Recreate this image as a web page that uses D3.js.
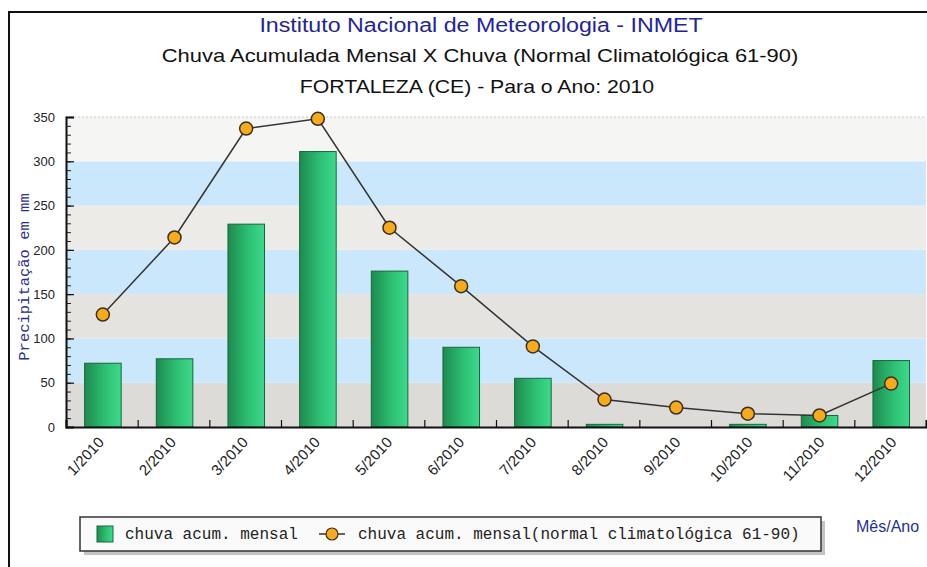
<!DOCTYPE html>
<html>
<head>
<meta charset="utf-8">
<script src="https://cdn.jsdelivr.net/npm/d3@7"></script>
<style>
  body { margin: 0; background: #fff; }
  svg { display: block; }
</style>
</head>
<body>
<div id="chart"></div>
<script>
// dados (mm)
var meses = ["1/2010", "2/2010", "3/2010", "4/2010", "5/2010", "6/2010",
             "7/2010", "8/2010", "9/2010", "10/2010", "11/2010", "12/2010"];
var chuvaMensal = [72, 77, 229, 311, 176, 90, 55, 3, 0, 3, 13, 75];
var chuvaNormal = [127, 214, 337, 348, 225, 159, 91, 31, 22, 15, 13, 49];
var yTicks = [0, 50, 100, 150, 200, 250, 300, 350];

var W = 927, H = 567;
var plot = {left: 66, right: 926, top: 117, bottom: 427};

var svg = d3.select("#chart").append("svg")
    .attr("width", W)
    .attr("height", H);

// gradiente das barras
var defs = svg.append("defs");
var grad = defs.append("linearGradient").attr("id", "barra")
    .attr("x1", "0%").attr("x2", "100%").attr("y1", "0%").attr("y2", "0%");
grad.append("stop").attr("offset", "0%").attr("stop-color", "#1f8a4f");
grad.append("stop").attr("offset", "55%").attr("stop-color", "#2cbf72");
grad.append("stop").attr("offset", "100%").attr("stop-color", "#3fd98c");

// moldura
svg.append("rect")
    .attr("x", 9).attr("y", 12)
    .attr("width", 960).attr("height", 600)
    .attr("fill", "#fff")
    .attr("stroke", "#111")
    .attr("stroke-width", 2);

// títulos (fonte esticada na horizontal, como no original)
function titulo(txt, cx, base, tam, sx, cor) {
  svg.append("text")
      .attr("transform", "translate(" + cx + "," + base + ") scale(" + sx + ",1)")
      .attr("text-anchor", "middle")
      .style("font-family", "Liberation Sans, Arial, sans-serif")
      .style("font-size", tam + "px")
      .style("fill", cor)
      .text(txt);
}
titulo("Instituto Nacional de Meteorologia - INMET", 481, 32, 20, 1.16, "#23239b");
titulo("Chuva Acumulada Mensal X Chuva (Normal Climatológica 61-90)", 480, 62, 18, 1.22, "#111");
titulo("FORTALEZA (CE) - Para o Ano: 2010", 477, 93, 18, 1.18, "#111");

// escalas
var x = d3.scaleBand()
    .domain(meses)
    .range([plot.left, plot.right])
    .padding(0);
var xLimites = d3.scaleLinear()
    .domain([0, meses.length])
    .range([plot.left, plot.right]);
var y = d3.scaleLinear()
    .domain([0, 350])
    .range([plot.bottom, plot.top]);

// faixas de fundo
var faixas = d3.range(0, 350, 50);
var corFaixa = {0: "#dddbd8", 50: "#cbe7fb", 100: "#e5e3e0", 150: "#cbe7fb",
                200: "#ecebe8", 250: "#cbe7fb", 300: "#f5f5f4"};
svg.append("g").selectAll("rect")
    .data(faixas)
    .enter().append("rect")
      .attr("x", plot.left)
      .attr("y", function(d) { return y(d + 50); })
      .attr("width", plot.right - plot.left)
      .attr("height", function(d) { return y(d) - y(d + 50); })
      .attr("fill", function(d) { return corFaixa[d]; });

svg.append("line")
    .attr("x1", plot.left).attr("x2", plot.right)
    .attr("y1", y(350)).attr("y2", y(350))
    .attr("stroke", "#c8c8c8")
    .attr("stroke-dasharray", "2,2");

// barras
var bw = x.bandwidth();
svg.append("g").selectAll("rect")
    .data(chuvaMensal)
    .enter().append("rect")
      .attr("x", function(d, i) { return x(meses[i]) + bw * 0.26; })
      .attr("y", function(d) { return y(d); })
      .attr("width", bw * 0.51)
      .attr("height", function(d) { return y(0) - y(d); })
      .attr("fill", "url(#barra)")
      .attr("stroke", "#17663d")
      .attr("stroke-width", 1);

// eixo Y: menores a cada 10, maiores a cada 50
svg.append("g")
    .attr("transform", "translate(" + plot.left + ",0)")
    .call(d3.axisLeft(y).tickValues(d3.range(0, 351, 10)).tickSize(-5).tickFormat(""))
    .call(function(g) { g.select(".domain").remove(); })
    .selectAll("line").attr("stroke", "#222");

svg.append("g")
    .attr("transform", "translate(" + plot.left + ",0)")
    .call(d3.axisLeft(y).tickValues(yTicks).tickSize(-8).tickPadding(11))
    .call(function(g) {
      g.select(".domain").attr("stroke", "#111").attr("stroke-width", 2);
      g.selectAll("line").attr("stroke", "#111").attr("stroke-width", 1.2);
      g.selectAll("text")
        .style("font-family", "Liberation Sans, Arial, sans-serif")
        .style("font-size", "13px")
        .style("fill", "#222");
    });

// eixo X: marcas nos limites das categorias
svg.append("g")
    .attr("transform", "translate(0," + plot.bottom + ")")
    .call(d3.axisBottom(xLimites).tickValues(d3.range(0, meses.length + 1)).tickSize(-7).tickFormat(""))
    .call(function(g) {
      g.select(".domain").attr("stroke", "#111").attr("stroke-width", 2);
      g.selectAll("line").attr("stroke", "#111").attr("stroke-width", 1.2);
    });

// rótulos dos meses
svg.append("g").selectAll("text")
    .data(meses)
    .enter().append("text")
      .attr("transform", function(d, i) {
        return "translate(" + (x(d) + bw / 2 + 3 + i * 0.4) + "," + (plot.bottom + 16) + ") rotate(-47)";
      })
      .attr("text-anchor", "end")
      .style("font-family", "Liberation Sans, Arial, sans-serif")
      .style("font-size", "15px")
      .style("fill", "#222")
      .text(function(d) { return d; });

// linha da normal climatológica
var linha = d3.line()
    .x(function(d, i) { return x(meses[i]) + bw / 2 + 1; })
    .y(function(d) { return y(d); });
svg.append("path")
    .datum(chuvaNormal)
    .attr("d", linha)
    .attr("fill", "none")
    .attr("stroke", "#333")
    .attr("stroke-width", 1.5);
svg.append("g").selectAll("circle")
    .data(chuvaNormal)
    .enter().append("circle")
      .attr("cx", function(d, i) { return x(meses[i]) + bw / 2 + 1; })
      .attr("cy", function(d) { return y(d); })
      .attr("r", 6.5)
      .attr("fill", "#f7aa1c")
      .attr("stroke", "#3a3020")
      .attr("stroke-width", 1.5);

// título do eixo Y
svg.append("text")
    .attr("transform", "translate(29,277) rotate(-90)")
    .attr("text-anchor", "middle")
    .style("font-family", "Liberation Mono, DejaVu Sans Mono, monospace")
    .style("font-size", "15.5px")
    .style("fill", "#2e2e8c")
    .text("Precipitação em mm");

// título do eixo X
svg.append("text")
    .attr("x", 856).attr("y", 532)
    .style("font-family", "Liberation Sans, Arial, sans-serif")
    .style("font-size", "16px")
    .style("fill", "#1f2f9a")
    .text("Mês/Ano");

// legenda
var legenda = svg.append("g").attr("transform", "translate(80,517)");
legenda.append("rect")
    .attr("x", 4).attr("y", 4)
    .attr("width", 741).attr("height", 34)
    .attr("fill", "#c4c4c4");
legenda.append("rect")
    .attr("width", 741).attr("height", 34)
    .attr("fill", "#fafafa")
    .attr("stroke", "#333")
    .attr("stroke-width", 1.5);
legenda.append("rect")
    .attr("x", 17).attr("y", 9)
    .attr("width", 16).attr("height", 16)
    .attr("fill", "url(#barra)")
    .attr("stroke", "#17663d");
legenda.append("text")
    .attr("x", 45).attr("y", 22)
    .style("font-family", "Liberation Mono, DejaVu Sans Mono, monospace")
    .style("font-size", "16px")
    .style("fill", "#222")
    .text("chuva acum. mensal");
legenda.append("line")
    .attr("x1", 239).attr("x2", 265)
    .attr("y1", 17).attr("y2", 17)
    .attr("stroke", "#333")
    .attr("stroke-width", 1.5);
legenda.append("circle")
    .attr("cx", 252).attr("cy", 17).attr("r", 6)
    .attr("fill", "#f7aa1c")
    .attr("stroke", "#3a3020")
    .attr("stroke-width", 1.2);
legenda.append("text")
    .attr("x", 278).attr("y", 22)
    .style("font-family", "Liberation Mono, DejaVu Sans Mono, monospace")
    .style("font-size", "16px")
    .style("fill", "#222")
    .text("chuva acum. mensal(normal climatológica 61-90)");
</script>
</body>
</html>
